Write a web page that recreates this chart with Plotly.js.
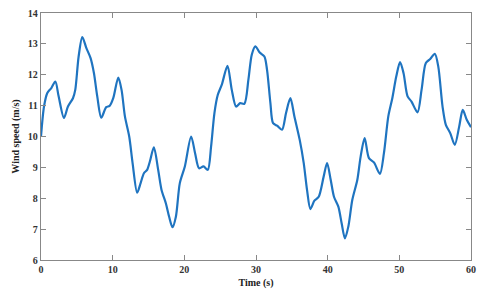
<!DOCTYPE html>
<html>
<head>
<meta charset="utf-8">
<script src="https://cdn.plot.ly/plotly-3.0.1.min.js"></script>
<style>html,body{margin:0;padding:0;background:#fff}#chart{width:480px;height:292px}</style>
</head>
<body>
<div id="chart"></div>
<script>
const timeS = [0.0,0.42,0.88,1.44,2.0,2.46,3.2,3.76,4.46,4.78,5.25,5.76,6.32,6.92,7.39,7.85,8.41,9.1,9.57,10.08,10.78,11.24,11.71,12.31,12.78,13.42,13.9,14.36,14.81,15.19,15.75,16.35,16.82,17.42,17.88,18.35,18.82,19.37,20.07,20.95,21.5,22.06,22.67,23.27,23.73,24.2,24.67,25.23,26.02,26.62,27.22,27.78,28.38,28.94,29.41,29.9,30.52,31.17,31.54,32.01,32.38,32.94,33.63,34.19,34.8,35.36,36.1,36.66,37.12,37.59,38.15,38.75,39.44,39.92,40.42,40.88,41.49,41.95,42.41,42.88,43.44,44.14,44.6,45.16,45.76,46.46,47.29,47.85,48.46,49.02,49.57,50.1,50.59,51.15,51.7,52.54,53.1,53.7,54.31,54.95,55.43,56.03,56.49,57.1,57.74,58.35,58.85,59.41,60.0];
const windSpeed = [10.0,10.97,11.41,11.57,11.78,11.3,10.6,10.97,11.24,11.51,12.59,13.22,12.87,12.54,12.05,11.3,10.61,10.95,10.99,11.24,11.91,11.51,10.65,10.0,9.14,8.18,8.49,8.81,8.92,9.19,9.65,8.92,8.27,7.84,7.4,7.06,7.4,8.49,9.03,10.0,9.46,8.97,9.03,8.92,9.67,10.76,11.35,11.68,12.29,11.51,10.97,11.08,11.06,11.84,12.65,12.92,12.72,12.59,12.16,11.08,10.43,10.35,10.22,10.76,11.24,10.65,9.89,9.14,8.27,7.65,7.92,8.05,8.7,9.14,8.6,8.05,7.73,7.19,6.7,7.08,7.95,8.6,9.35,9.95,9.3,9.16,8.79,9.46,10.65,11.24,11.94,12.41,12.05,11.3,11.13,10.78,11.51,12.38,12.51,12.68,12.27,10.97,10.38,10.11,9.73,10.32,10.86,10.54,10.3];
const xTicks = [0,10,20,30,40,50,60];
const yTicks = [6,7,8,9,10,11,12,13,14];

const tickFont = {family:'"Liberation Serif", "DejaVu Serif", serif', size:10, color:'#333', weight:'bold'};
const titleFont = {family:'"Liberation Serif", "DejaVu Serif", serif', size:10, color:'#222', weight:'bold'};

Plotly.newPlot('chart', [{
  x: timeS, y: windSpeed, type:'scatter', mode:'lines',
  line:{color:'#1f74c0', width:2.2, shape:'spline', smoothing:0.8},
  hoverinfo:'skip'
}], {
  width:480, height:292,
  margin:{l:41, r:9, t:13, b:32},
  paper_bgcolor:'#fff', plot_bgcolor:'#fff',
  showlegend:false,
  xaxis:{range:[0,60], tickvals:xTicks, ticktext:xTicks.map(String), ticks:'inside', ticklen:5, tickcolor:'#888',
    showline:true, linecolor:'#888', linewidth:1.2, mirror:'ticks', showgrid:false, zeroline:false,
    tickfont:tickFont, title:{text:'Time (s)', font:titleFont, standoff:4}},
  yaxis:{range:[6,14], tickvals:yTicks, ticktext:yTicks.map(String), ticks:'inside', ticklen:5, tickcolor:'#888',
    showline:true, linecolor:'#888', linewidth:1.2, mirror:'ticks', showgrid:false, zeroline:false,
    tickfont:tickFont, title:{text:'Wind speed (m/s)', font:titleFont, standoff:6}}
}, {displayModeBar:false, staticPlot:true});
</script>
</body>
</html>
